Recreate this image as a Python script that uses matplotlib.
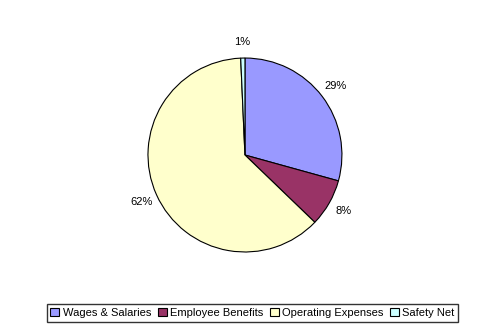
import matplotlib
matplotlib.use('Agg')
import matplotlib.pyplot as plt
from matplotlib.patches import Patch

plt.rcParams['font.family'] = ['Liberation Sans', 'DejaVu Sans']

# Data
labels = ['Wages & Salaries', 'Employee Benefits', 'Operating Expenses', 'Safety Net']
values = [29.3, 7.9, 62.1, 0.7]
colors = ['#9999FF', '#993366', '#FFFFCC', '#CCFFFF']

fig = plt.figure(figsize=(4.91, 3.33), dpi=100)
ax = fig.add_axes([0.3014, 0.2432, 0.395, 0.5826])

wedges, texts, autotexts = ax.pie(values, colors=colors, startangle=90, counterclock=False,
                                  autopct='%1.0f%%', pctdistance=1.17,
                                  wedgeprops=dict(edgecolor='black', linewidth=0.8))
for t in autotexts:
    t.set_fontsize(8)
ax.set_xlim(-1, 1)
ax.set_ylim(-1, 1)
ax.set_aspect('equal')

handles = [Patch(facecolor=c, edgecolor='black', linewidth=0.8) for c in colors]
leg = fig.legend(handles, labels, loc='center', bbox_to_anchor=(252.5/491, 1 - 313/333),
                 ncol=4, fontsize=8, frameon=True, fancybox=False, edgecolor='black',
                 handlelength=0.8, handleheight=0.8, handletextpad=0.3, columnspacing=0.6,
                 borderpad=0.35, borderaxespad=0.3)
leg.get_frame().set_linewidth(1.0)

fig.savefig('out.png', dpi=100)
